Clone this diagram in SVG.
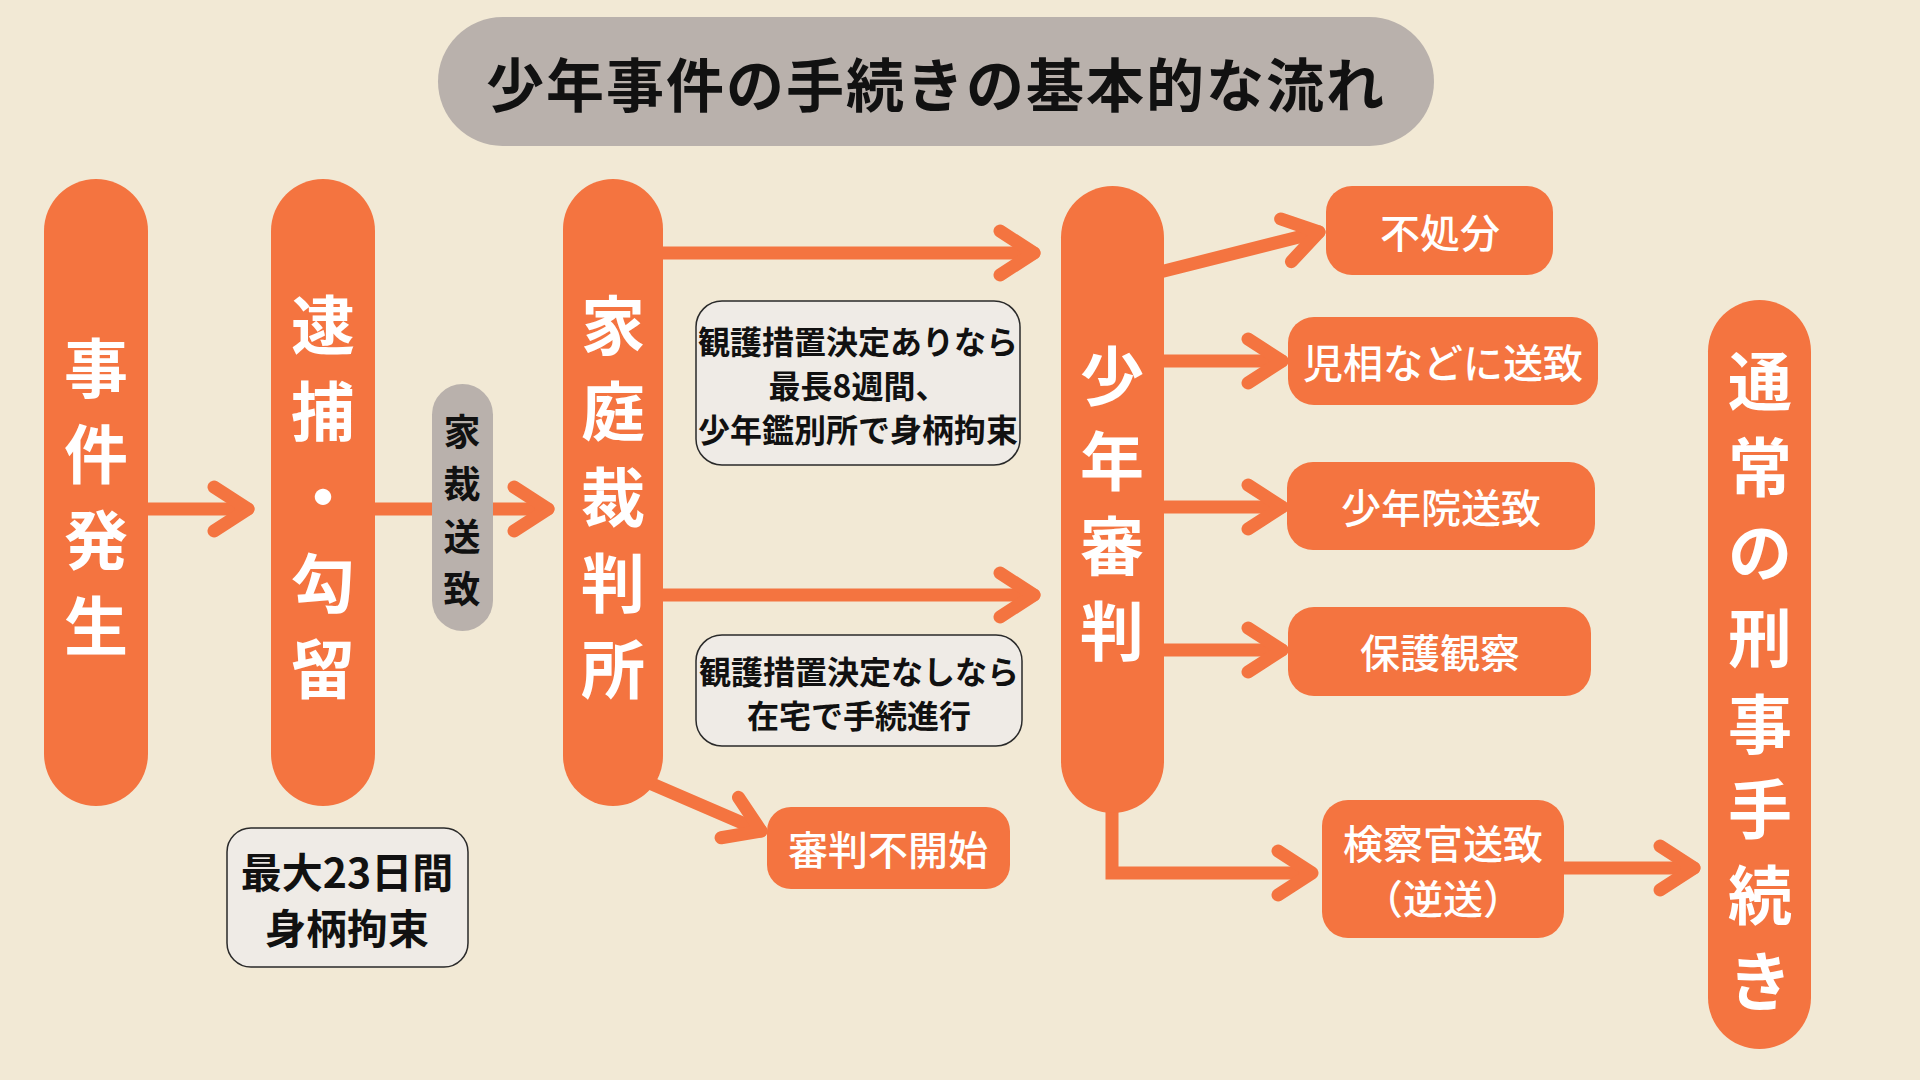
<svg xmlns="http://www.w3.org/2000/svg" width="1920" height="1080" viewBox="0 0 1920 1080">
<style>
.or{fill:#f47440}
.gr{fill:#b9b1ac}
.note{fill:#efebe6;stroke:#2a2a2a;stroke-width:1.5}
.vt{font-family:"Noto Sans CJK JP","Noto Sans",sans-serif;font-weight:700;fill:#fff;font-size:64px;text-anchor:middle;dominant-baseline:central}
.vg{font-family:"Noto Sans CJK JP","Noto Sans",sans-serif;font-weight:700;fill:#111;font-size:37px;text-anchor:middle;dominant-baseline:central}
.bt{font-family:"Noto Sans CJK JP","Noto Sans",sans-serif;font-weight:500;fill:#fff;font-size:40px;text-anchor:middle;dominant-baseline:central}
.nt{font-family:"Noto Sans CJK JP","Noto Sans",sans-serif;font-weight:700;fill:#111;font-size:32px;text-anchor:middle;dominant-baseline:central}
.kt{font-family:"Noto Sans CJK JP","Noto Sans",sans-serif;font-weight:700;fill:#111;font-size:41px;text-anchor:middle;dominant-baseline:central}
.tt{font-family:"Noto Sans CJK JP","Noto Sans",sans-serif;font-weight:700;fill:#111;font-size:58px;letter-spacing:2px;text-anchor:middle;dominant-baseline:central}
.ln{fill:none;stroke:#f47440;stroke-width:13;stroke-linecap:round;stroke-linejoin:round;marker-end:url(#ah)}
</style>
<defs>
<marker id="ah" markerUnits="userSpaceOnUse" orient="auto" overflow="visible" markerWidth="1" markerHeight="1" refX="0" refY="0">
<path d="M-34,-22 L0,0 L-34,22" fill="none" stroke="#f47440" stroke-width="13" stroke-linecap="round" stroke-linejoin="round"/>
</marker>
</defs>
<rect width="1920" height="1080" fill="#f2e9d5"/>
<g id="title">
<rect x="438" y="17" width="996" height="129" rx="64.5" class="gr"/>
<text x="936" y="82" class="tt">少年事件の手続きの基本的な流れ</text>
</g>
<g id="connectors">
<path class="ln" d="M148,509 L248,509"/>
<path class="ln" d="M375,509 L548,509"/>
<path class="ln" d="M663,253 L1034,253"/>
<path class="ln" d="M663,595 L1034,595"/>
<path class="ln" d="M645,781 L761,831"/>
<path class="ln" d="M1160,272 L1319,232"/>
<path class="ln" d="M1164,361 L1282,361"/>
<path class="ln" d="M1164,507 L1282,507"/>
<path class="ln" d="M1164,650 L1282,650"/>
<path class="ln" d="M1112,800 L1112,873 L1312,873" style="stroke-linecap:butt;stroke-linejoin:miter"/>
<path class="ln" d="M1564,868 L1694,868"/>
</g>
<g id="n-jiken">
<rect x="44" y="179" width="104" height="627" rx="52" class="or"/>
<text class="vt"><tspan x="96" y="364">事</tspan><tspan x="96" y="450">件</tspan><tspan x="96" y="536">発</tspan><tspan x="96" y="622">生</tspan></text>
</g>
<g id="n-taiho">
<rect x="271" y="179" width="104" height="627" rx="52" class="or"/>
<text class="vt"><tspan x="323" y="321">逮</tspan><tspan x="323" y="407">捕</tspan><tspan x="323" y="493">・</tspan><tspan x="323" y="579">勾</tspan><tspan x="323" y="665">留</tspan></text>
</g>
<g id="n-kasai">
<rect x="432" y="384" width="61" height="247" rx="30.5" class="gr"/>
<text class="vg"><tspan x="462" y="430">家</tspan><tspan x="462" y="482">裁</tspan><tspan x="462" y="535">送</tspan><tspan x="462" y="587">致</tspan></text>
</g>
<g id="n-katei">
<rect x="563" y="179" width="100" height="627" rx="50" class="or"/>
<text class="vt"><tspan x="613" y="321">家</tspan><tspan x="613" y="407">庭</tspan><tspan x="613" y="493">裁</tspan><tspan x="613" y="579">判</tspan><tspan x="613" y="665">所</tspan></text>
</g>
<g id="n-note1">
<rect x="696" y="301" width="324" height="164" rx="26" class="note"/>
<text class="nt"><tspan x="858" y="340">観護措置決定ありなら</tspan><tspan x="858" y="384">最長8週間、</tspan><tspan x="858" y="428">少年鑑別所で身柄拘束</tspan></text>
</g>
<g id="n-note2">
<rect x="696" y="635" width="326" height="111" rx="26" class="note"/>
<text class="nt"><tspan x="859" y="670">観護措置決定なしなら</tspan><tspan x="859" y="714">在宅で手続進行</tspan></text>
</g>
<g id="n-max23">
<rect x="227" y="828" width="241" height="139" rx="24" class="note"/>
<text class="kt"><tspan x="347" y="870">最大23日間</tspan><tspan x="347" y="926">身柄拘束</tspan></text>
</g>
<g id="n-fukaishi">
<rect x="767" y="807" width="243" height="82" rx="24" class="or"/>
<text x="888" y="848" class="bt">審判不開始</text>
</g>
<g id="n-shonen">
<rect x="1061" y="186" width="103" height="627" rx="51.5" class="or"/>
<text class="vt"><tspan x="1112" y="372">少</tspan><tspan x="1112" y="457">年</tspan><tspan x="1112" y="542">審</tspan><tspan x="1112" y="627">判</tspan></text>
</g>
<g id="n-fushobun">
<rect x="1326" y="186" width="227" height="89" rx="26" class="or"/>
<text x="1440" y="231" class="bt">不処分</text>
</g>
<g id="n-jiso">
<rect x="1288" y="317" width="310" height="88" rx="26" class="or"/>
<text x="1443" y="361" class="bt">児相などに送致</text>
</g>
<g id="n-shonenin">
<rect x="1287" y="462" width="308" height="88" rx="26" class="or"/>
<text x="1441" y="506" class="bt">少年院送致</text>
</g>
<g id="n-hogo">
<rect x="1288" y="607" width="303" height="89" rx="26" class="or"/>
<text x="1440" y="651" class="bt">保護観察</text>
</g>
<g id="n-kensatsu">
<rect x="1322" y="800" width="242" height="138" rx="26" class="or"/>
<text class="bt"><tspan x="1443" y="842">検察官送致</tspan><tspan x="1443" y="897">（逆送）</tspan></text>
</g>
<g id="n-tsujo">
<rect x="1708" y="300" width="103" height="749" rx="51.5" class="or"/>
<text class="vt"><tspan x="1760" y="377">通</tspan><tspan x="1760" y="463">常</tspan><tspan x="1760" y="548">の</tspan><tspan x="1760" y="634">刑</tspan><tspan x="1760" y="720">事</tspan><tspan x="1760" y="805">手</tspan><tspan x="1760" y="891">続</tspan><tspan x="1760" y="977">き</tspan></text>
</g>
</svg>
